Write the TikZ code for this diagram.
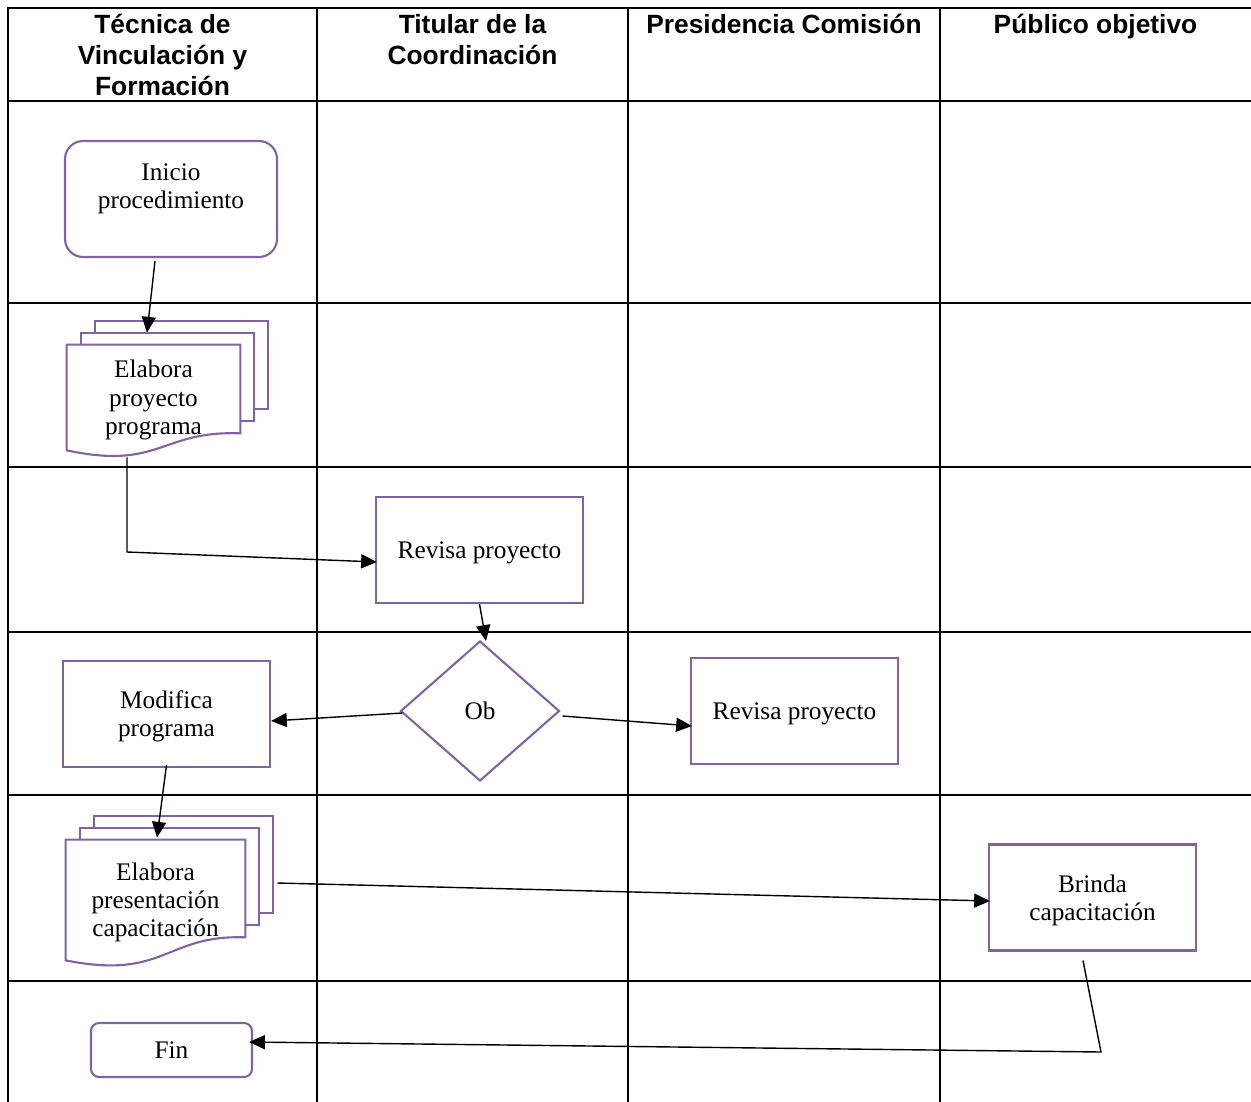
\documentclass[tikz,border=0pt]{standalone}
\usepackage{fontspec}
\setmainfont{Liberation Serif}
\newfontfamily\headfont{Liberation Sans}
\usetikzlibrary{shapes.geometric,arrows.meta,calc}
\definecolor{boxpurple}{RGB}{128,100,162}

% stacked documents: #1 node name, #2 rise of the right edge (px)
\newcommand{\docstack}[2]{%
  \coordinate (#1-rb) at ($(#1.south east)+(0,-#2)$);
  \foreach \k/\j in {1/0,2/1}
    \draw[docline] ($(#1.north west)+(\k*14,-\j*12)$) -- ($(#1.north west)+(\k*14,-\k*12)$)
      -- ($(#1.north east)+(\k*14,-\k*12)$) -- ($(#1-rb)+(\k*14,-\k*12)$) -- ($(#1-rb)+(\j*14,-\k*12)$);
  \draw[docline] (#1.north west) -- (#1.north east) -- (#1-rb)
    .. controls ($(#1-rb)+(-80,-3)$) and ($(#1.south east)+(-80,15)$) .. ($(#1.south west)+(0,-5)$) -- cycle;
}

\begin{document}
\begin{tikzpicture}[x=0.02cm,y=-0.02cm,font=\fontsize{14.4}{16}\selectfont,
    lane/.style={line width=1.2pt,line cap=rect},
    head/.style={anchor=north,align=center,inner sep=0pt,font=\headfont\bfseries\fontsize{15}{17.6}\selectfont},
    box/.style={draw=boxpurple,line width=1.2pt,minimum width=4.14cm,minimum height=2.12cm,align=center,text depth=-1.5pt},
    startstop/.style={draw=boxpurple,line width=1.2pt,align=center},
    docnode/.style={inner sep=0pt,align=center},
    docline/.style={draw=boxpurple,line width=1.2pt,line join=miter},
    decision/.style={diamond,draw=boxpurple,line width=1.2pt,inner sep=0pt,minimum width=3.18cm,minimum height=2.8cm},
    arr/.style={-{Triangle[length=9pt,width=8pt]},line width=0.8pt}]

\useasboundingbox (0,0) rectangle (1251,1102);

% swimlanes
\foreach \y in {8,101,303,467,632,795,981}
  \draw[lane] (8,\y) -- (1251,\y);
\foreach \x in {8,317,628,940}
  \draw[lane] (\x,8) -- (\x,1102);

\node[head] (h1) at (162.5,14) {Técnica de\\Vinculación y\\Formación};
\node[head] (h2) at (472.5,14) {Titular de la\\Coordinación};
\node[head] (h3) at (784,14) {Presidencia Comisión};
\node[head] (h4) at (1095.5,14) {Público objetivo};

% steps
\node[startstop,minimum width=4.24cm,minimum height=2.32cm,rounded corners=0.36cm,text depth=15pt] (inicio) at (171,199) {Inicio\\procedimiento};
\node[docnode,minimum width=3.46cm,minimum height=2.2cm] (doc1) at (153.5,400) {Elabora\\proyecto\\programa};
\node[box] (rev1) at (479.5,550) {Revisa proyecto};
\node[decision] (ob) at (480,711) {Ob};
\node[box] (mod) at (166.5,714) {Modifica\\programa};
\node[box] (rev2) at (794.5,711) {Revisa proyecto};
\node[docnode,minimum width=3.58cm,minimum height=2.5cm] (doc2) at (155.5,902.5) {Elabora\\presentación\\capacitación};
\node[box] (brinda) at (1092.5,897.5) {Brinda\\capacitación};
\node[startstop,minimum width=3.22cm,minimum height=1.08cm,rounded corners=0.16cm,text depth=-2pt] (fin) at (171.5,1050) {Fin};

\docstack{doc1}{22}
\docstack{doc2}{28}

% flow
\coordinate (k1) at (127,552);
\coordinate (k2) at (1101,1052);
\draw[arr] ($(inicio.south)+(-16,3)$) -- ($(doc1.north)+(-6.5,-12)$);
\draw[arr] ($(doc1.south)+(-26.5,2)$) -- (k1) -- ($(rev1.west)+(2,12)$);
\draw[arr] (rev1.south) -- ($(ob.north)+(6,1)$);
\draw[arr] ($(ob.west)+(3,2)$) -- ($(mod.east)+(0,7)$);
\draw[arr] ($(ob.east)+(2,5)$) -- ($(rev2.west)+(2,15)$);
\draw[arr] ($(mod.south)+(0,-3)$) -- ($(doc2.north)+(1.5,-2)$);
\draw[arr] ($(doc2.east)+(32,-19.5)$) -- ($(brinda.west)+(2,3.5)$);
\draw[arr] ($(brinda.south)+(-9.5,9)$) -- (k2) -- ($(fin.east)+(-4,-8)$);

\end{tikzpicture}
\end{document}
